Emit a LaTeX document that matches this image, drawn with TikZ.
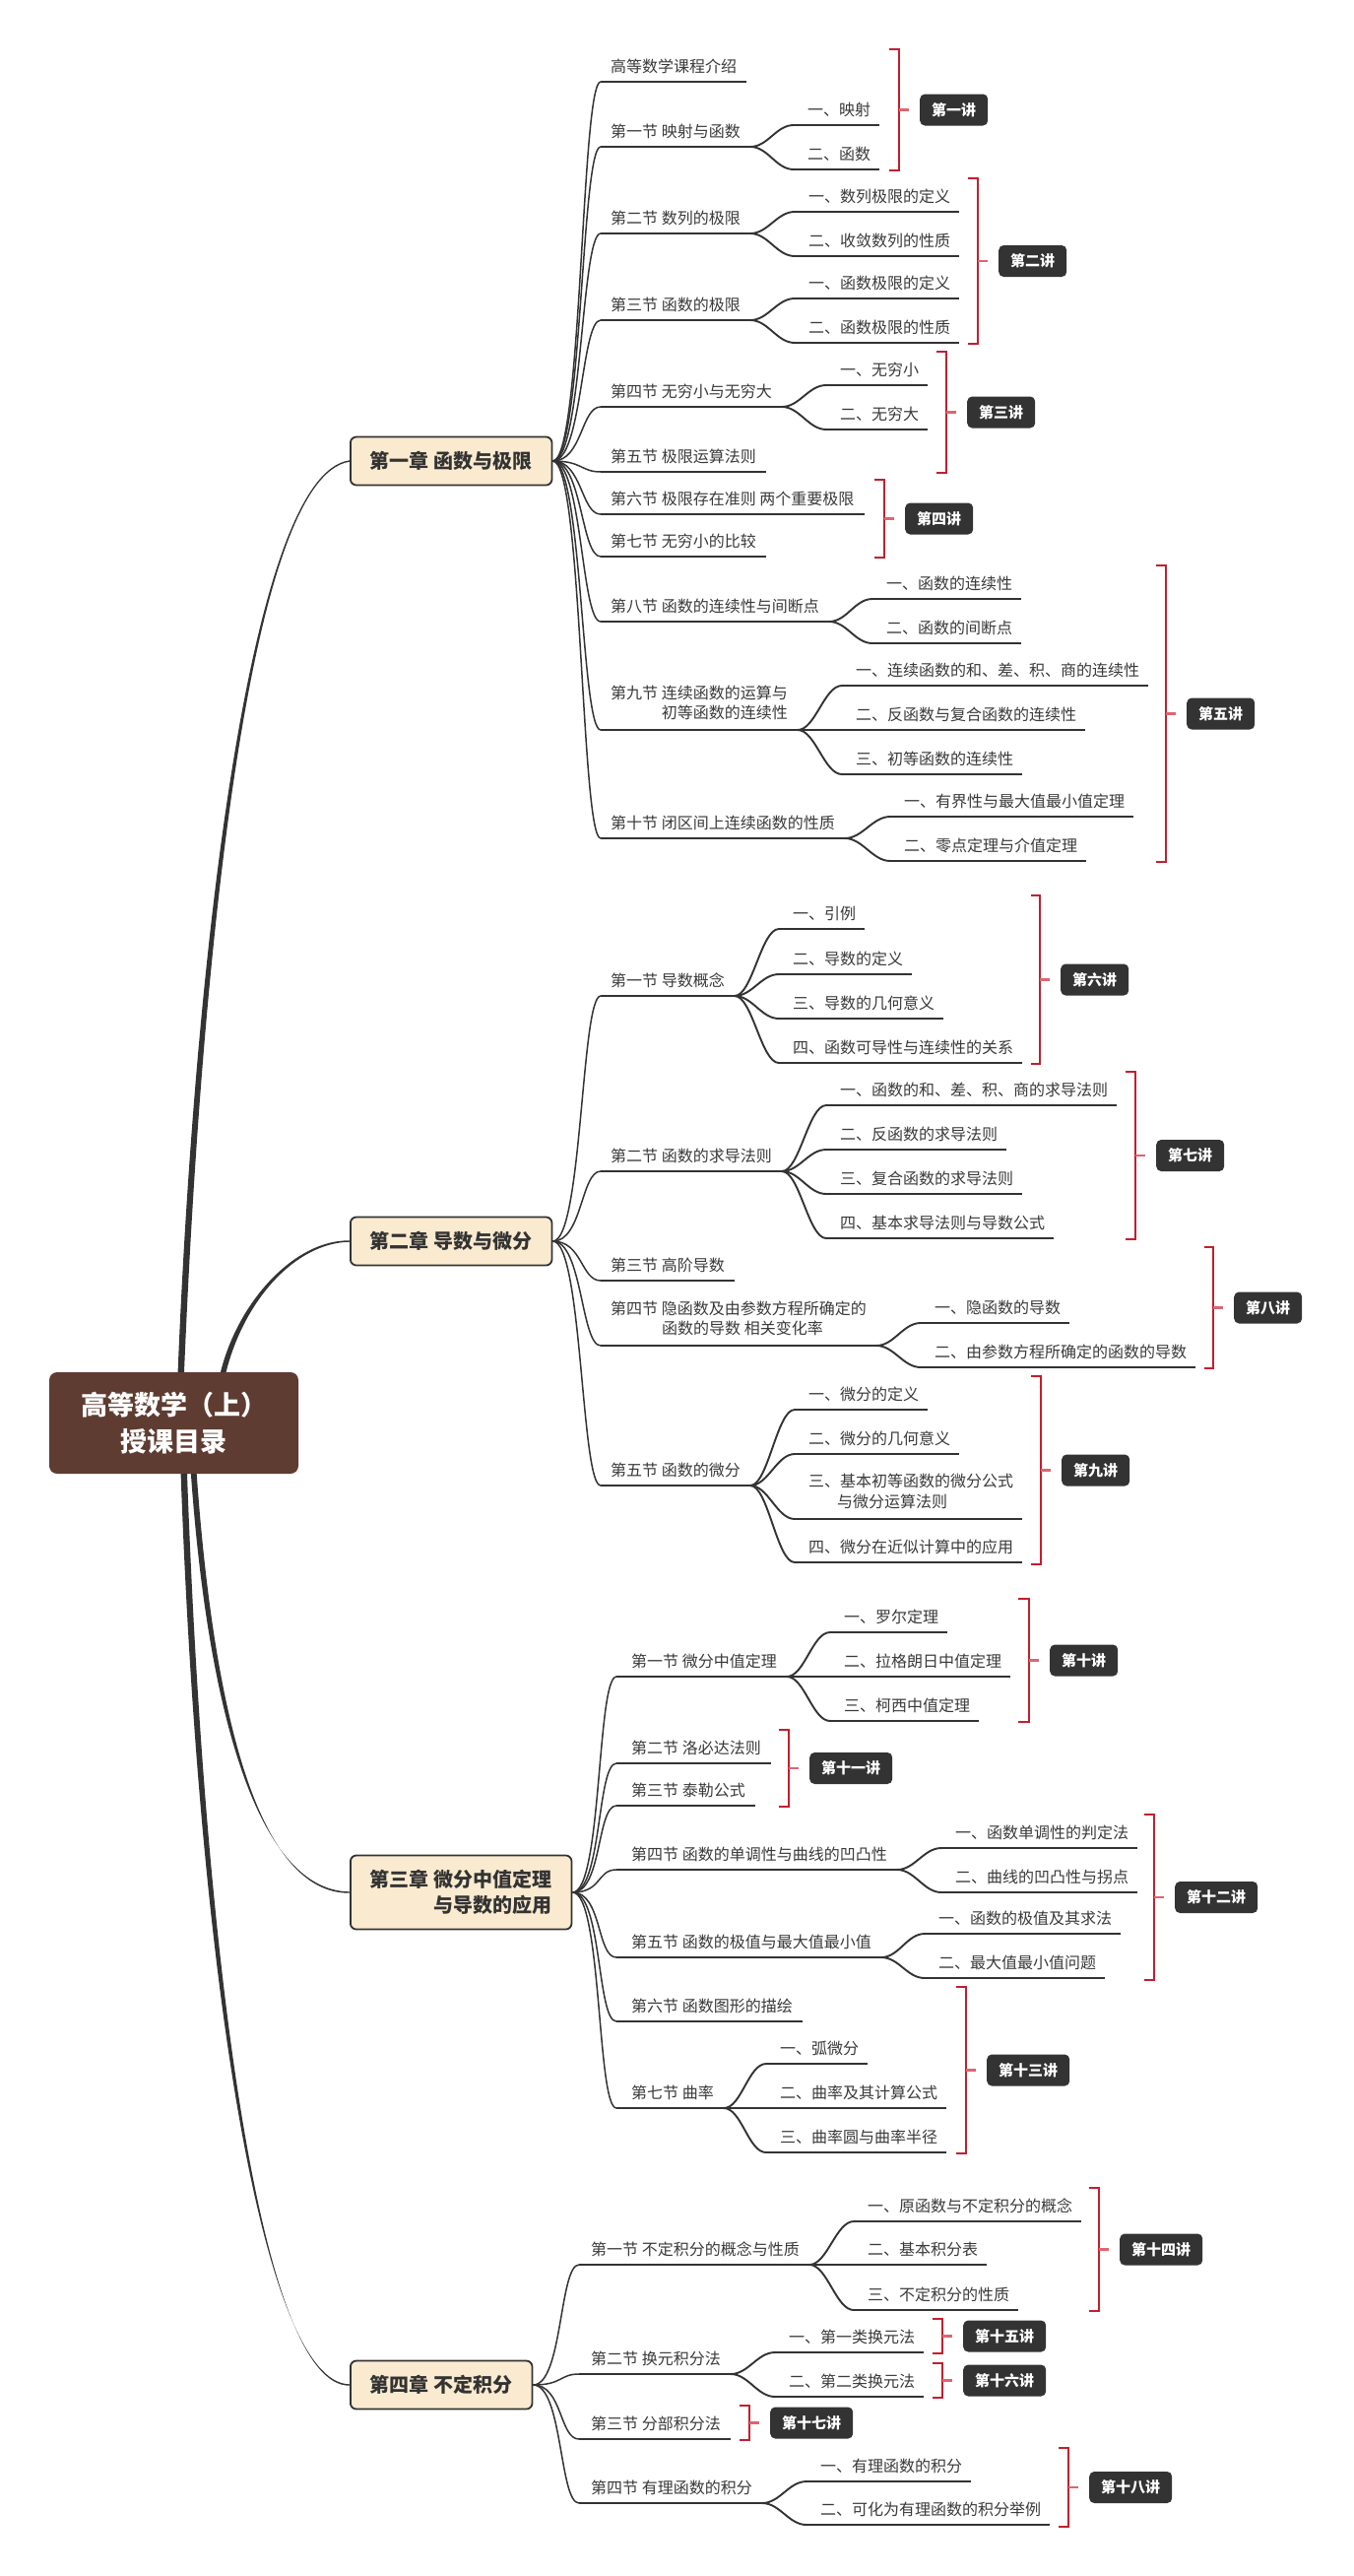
\documentclass[tikz,border=0pt]{standalone}
\usepackage{fontspec}
\setmainfont{Noto Sans CJK SC}
\usetikzlibrary{calc}
\definecolor{ink}{HTML}{333333}
\definecolor{txt}{HTML}{3A3A3A}
\definecolor{chfill}{HTML}{FAEBD0}
\definecolor{rootfill}{HTML}{5E3C31}
\definecolor{brk}{HTML}{C41E2D}
\definecolor{brkl}{HTML}{DB6670}
\definecolor{lectfill}{HTML}{333333}
\tikzset{
  sectxt/.style={anchor=base west, inner sep=0pt, text=txt, font=\fontsize{16}{21}\selectfont},
  uline/.style={draw=ink, line width=2.2pt},
  secline/.style={draw=ink, line width=1.5pt},
  subline/.style={draw=ink, line width=1.9pt},
  chap/.style={draw=ink, line width=1.8pt, fill=chfill, rounded corners=6pt, anchor=west, minimum height=49pt, inner xsep=20pt, text=ink, font=\fontsize{20}{26}\selectfont\bfseries},
  rootbox/.style={fill=rootfill, rounded corners=8pt, minimum width=253pt, minimum height=103pt, align=center, text=white, font=\fontsize{27}{37}\selectfont\bfseries},
  lect/.style={fill=lectfill, rounded corners=5pt, anchor=west, minimum height=32pt, inner xsep=12pt, inner ysep=0pt, text=white, font=\fontsize{15}{18}\selectfont\bfseries},
  brkline/.style={draw=brk, line width=2.6pt},
  brktick/.style={draw=brkl, line width=2.6pt},
}
\newcommand\Sec[6]{%
  \node[sectxt] (#1) at (#4,#5-10) {#6};
  \coordinate (#1a) at (#3,#5);
  \coordinate (#1b) at ($(#1.east |- #1a)+(10,0)$);
  \draw[secline] (#2.east) .. controls +(30,0) and +(-20,0) .. (#1a);
  \draw[uline] (#1a) -- (#1b);
}
\newcommand\Sub[5]{%
  \node[sectxt] (#1) at (#3,#4-10) {#5};
  \coordinate (#1a) at (#3-14,#4);
  \draw[subline] (#2b) .. controls +(18,0) and +(-18,0) .. (#1a);
  \draw[uline] (#1a) -- ($(#1.east |- #1a)+(9,0)$);
}
\newcommand\Lect[6]{%
  \draw[brkline] (#2,#4) -- (#3,#4) -- (#3,#5) -- (#2,#5);
  \coordinate (#1m) at (#3,{(#4+#5)/2});
  \node[lect] (#1) at ($(#1m)+(21,0)$) {#6};
  \draw[brktick] (#1m) -- ($(#1m)+(10,0)$);
}
\begin{document}
\begin{tikzpicture}[x=1pt,y=-1pt]
\useasboundingbox[fill=white] (0,0) rectangle (1374,2615);

% chapters and root
\node[chap] (ch1) at (355,468) {第一章 函数与极限};
\node[chap] (ch2) at (355,1260) {第二章 导数与微分};
\node[chap, align=right, minimum height=75pt] (ch3) at (355,1921) {第三章 微分中值定理\\与导数的应用};
\node[chap] (ch4) at (355,2421) {第四章 不定积分};
\node[rootbox] (root) at (176.5,1444.5) {高等数学（上）\\授课目录};

\coordinate (r1) at ($(root.north west)+(134,0)$);
\coordinate (r2) at ($(root.north west)+(177,0)$);
\coordinate (r3) at ($(root.south west)+(147,0)$);
\coordinate (r4) at ($(root.south west)+(137,0)$);

\fill[ink] ($(r1)+(-3.2,0)$) .. controls (196.6,1000) and (250,481.5) .. ($(ch1.west)+(0,-0.7)$) -- ($(ch1.west)+(0,0.7)$) .. controls (250,484.5) and (203.4,1000) .. ($(r1)+(3.2,0)$) -- cycle;
\fill[ink] ($(r2)+(-2.8,0)$) .. controls (242.2,1320) and (300,1258.4) .. ($(ch2.west)+(0,-0.7)$) -- ($(ch2.west)+(0,0.7)$) .. controls (300,1261.6) and (247.8,1320) .. ($(r2)+(2.8,0)$) -- cycle;
\fill[ink] ($(r3)+(-2.9,0)$) .. controls (212.1,1750) and (265,1919.4) .. ($(ch3.west)+(0,-0.7)$) -- ($(ch3.west)+(0,0.7)$) .. controls (265,1922.6) and (217.9,1750) .. ($(r3)+(2.9,0)$) -- cycle;
\fill[ink] ($(r4)+(-3.2,0)$) .. controls (201.8,2000) and (265,2419.4) .. ($(ch4.west)+(0,-0.7)$) -- ($(ch4.west)+(0,0.7)$) .. controls (265,2422.6) and (208.2,2000) .. ($(r4)+(3.2,0)$) -- cycle;

% ---------- chapter 1
\Sec{A1}{ch1}{610}{620}{83}{高等数学课程介绍}
\Sec{A2}{ch1}{610}{620}{149}{第一节 映射与函数}
\Sub{A2p}{A2}{820}{127}{一、映射}
\Sub{A2q}{A2}{820}{172}{二、函数}
\Sec{A3}{ch1}{610}{620}{237}{第二节 数列的极限}
\Sub{A3p}{A3}{821}{215}{一、数列极限的定义}
\Sub{A3q}{A3}{821}{260}{二、收敛数列的性质}
\Sec{A4}{ch1}{610}{620}{325}{第三节 函数的极限}
\Sub{A4p}{A4}{821}{303}{一、函数极限的定义}
\Sub{A4q}{A4}{821}{348}{二、函数极限的性质}
\Sec{A5}{ch1}{610}{620}{413}{第四节 无穷小与无穷大}
\Sub{A5p}{A5}{853}{391}{一、无穷小}
\Sub{A5q}{A5}{853}{436}{二、无穷大}
\Sec{A6}{ch1}{610}{620}{479}{第五节 极限运算法则}
\Sec{A7}{ch1}{610}{620}{522}{第六节 极限存在准则 两个重要极限}
\Sec{A8}{ch1}{610}{620}{565}{第七节 无穷小的比较}
\Sec{A9}{ch1}{610}{620}{631}{第八节 函数的连续性与间断点}
\Sub{A9p}{A9}{900}{608}{一、函数的连续性}
\Sub{A9q}{A9}{900}{653}{二、函数的间断点}
\node[sectxt] (A10) at (620,709) {第九节 连续函数的运算与};
\node[sectxt, anchor=base east] (A10l) at (800,729) {初等函数的连续性};
\coordinate (A10a) at (610,741);
\coordinate (A10b) at ($(A10.east |- A10a)+(10,0)$);
\draw[secline] (ch1.east) .. controls +(30,0) and +(-20,0) .. (A10a);
\draw[uline] (A10a) -- (A10b);
\Sub{A10p}{A10}{869}{696}{一、连续函数的和、差、积、商的连续性}
\Sub{A10q}{A10}{869}{741}{二、反函数与复合函数的连续性}
\Sub{A10r}{A10}{869}{786}{三、初等函数的连续性}
\Sec{A11}{ch1}{610}{620}{851}{第十节 闭区间上连续函数的性质}
\Sub{A11p}{A11}{918}{829}{一、有界性与最大值最小值定理}
\Sub{A11q}{A11}{918}{874}{二、零点定理与介值定理}

\Lect{L1}{903}{913}{50}{173}{第一讲}
\Lect{L2}{983}{993}{181}{349}{第二讲}
\Lect{L3}{951}{961}{357}{480}{第三讲}
\Lect{L4}{888}{898}{487}{566}{第四讲}
\Lect{L5}{1174}{1184}{574}{875}{第五讲}

% ---------- chapter 2
\Sec{B1}{ch2}{610}{620}{1011}{第一节 导数概念}
\Sub{B1p}{B1}{805}{943}{一、引例}
\Sub{B1q}{B1}{805}{989}{二、导数的定义}
\Sub{B1r}{B1}{805}{1034}{三、导数的几何意义}
\Sub{B1s}{B1}{805}{1079}{四、函数可导性与连续性的关系}
\Sec{B2}{ch2}{610}{620}{1189}{第二节 函数的求导法则}
\Sub{B2p}{B2}{853}{1122}{一、函数的和、差、积、商的求导法则}
\Sub{B2q}{B2}{853}{1167}{二、反函数的求导法则}
\Sub{B2r}{B2}{853}{1212}{三、复合函数的求导法则}
\Sub{B2s}{B2}{853}{1257}{四、基本求导法则与导数公式}
\Sec{B3}{ch2}{610}{620}{1300}{第三节 高阶导数}
\node[sectxt] (B4) at (620,1334) {第四节 隐函数及由参数方程所确定的};
\node[sectxt] (B4l) at (672,1354) {函数的导数 相关变化率};
\coordinate (B4a) at (610,1366);
\coordinate (B4b) at ($(B4.east |- B4a)+(10,0)$);
\draw[secline] (ch2.east) .. controls +(30,0) and +(-20,0) .. (B4a);
\draw[uline] (B4a) -- (B4b);
\Sub{B4p}{B4}{949}{1343}{一、隐函数的导数}
\Sub{B4q}{B4}{949}{1388}{二、由参数方程所确定的函数的导数}
\Sec{B5}{ch2}{610}{620}{1508}{第五节 函数的微分}
\Sub{B5p}{B5}{821}{1431}{一、微分的定义}
\Sub{B5q}{B5}{821}{1476}{二、微分的几何意义}
\node[sectxt] (B5r) at (821,1509) {三、基本初等函数的微分公式};
\node[sectxt] (B5rl) at (850,1530) {与微分运算法则};
\coordinate (B5ra) at (807,1542);
\draw[subline] (B5b) .. controls +(18,0) and +(-18,0) .. (B5ra);
\draw[uline] (B5ra) -- ($(B5r.east |- B5ra)+(9,0)$);
\Sub{B5s}{B5}{821}{1586}{四、微分在近似计算中的应用}

\Lect{L6}{1047}{1056}{909}{1080}{第六讲}
\Lect{L7}{1143}{1153}{1088}{1258}{第七讲}
\Lect{L8}{1223}{1232}{1266}{1389}{第八讲}
\Lect{L9}{1047}{1057}{1397}{1588}{第九讲}

% ---------- chapter 3
\Sec{C1}{ch3}{626}{641}{1702}{第一节 微分中值定理}
\Sub{C1p}{C1}{857}{1657}{一、罗尔定理}
\Sub{C1q}{C1}{857}{1702}{二、拉格朗日中值定理}
\Sub{C1r}{C1}{857}{1747}{三、柯西中值定理}
\Sec{C2}{ch3}{626}{641}{1790}{第二节 洛必达法则}
\Sec{C3}{ch3}{626}{641}{1833}{第三节 泰勒公式}
\Sec{C4}{ch3}{626}{641}{1898}{第四节 函数的单调性与曲线的凹凸性}
\Sub{C4p}{C4}{970}{1876}{一、函数单调性的判定法}
\Sub{C4q}{C4}{970}{1921}{二、曲线的凹凸性与拐点}
\Sec{C5}{ch3}{626}{641}{1987}{第五节 函数的极值与最大值最小值}
\Sub{C5p}{C5}{953}{1963}{一、函数的极值及其求法}
\Sub{C5q}{C5}{953}{2008}{二、最大值最小值问题}
\Sec{C6}{ch3}{626}{641}{2052}{第六节 函数图形的描绘}
\Sec{C7}{ch3}{626}{641}{2140}{第七节 曲率}
\Sub{C7p}{C7}{792}{2095}{一、弧微分}
\Sub{C7q}{C7}{792}{2140}{二、曲率及其计算公式}
\Sub{C7r}{C7}{792}{2185}{三、曲率圆与曲率半径}

\Lect{L10}{1034}{1045}{1623}{1748}{第十讲}
\Lect{L11}{791}{801}{1756}{1834}{第十一讲}
\Lect{L12}{1162}{1172}{1842}{2010}{第十二讲}
\Lect{L13}{971}{981}{2017}{2186}{第十三讲}

% ---------- chapter 4
\Sec{D1}{ch4}{588}{600}{2299}{第一节 不定积分的概念与性质}
\Sub{D1p}{D1}{881}{2255}{一、原函数与不定积分的概念}
\Sub{D1q}{D1}{881}{2299}{二、基本积分表}
\Sub{D1r}{D1}{881}{2345}{三、不定积分的性质}
\Sec{D2}{ch4}{588}{600}{2410}{第二节 换元积分法}
\Sub{D2p}{D2}{801}{2388}{一、第一类换元法}
\Sub{D2q}{D2}{801}{2433}{二、第二类换元法}
\Sec{D3}{ch4}{588}{600}{2476}{第三节 分部积分法}
\Sec{D4}{ch4}{588}{600}{2541}{第四节 有理函数的积分}
\Sub{D4p}{D4}{833}{2519}{一、有理函数的积分}
\Sub{D4q}{D4}{833}{2563}{二、可化为有理函数的积分举例}

\Lect{L14}{1106}{1116}{2221}{2346}{第十四讲}
\Lect{L15}{947}{957}{2354}{2389}{第十五讲}
\Lect{L16}{947}{957}{2399}{2434}{第十六讲}
\Lect{L17}{751}{761}{2442}{2477}{第十七讲}
\Lect{L18}{1075}{1085}{2485}{2565}{第十八讲}
\end{tikzpicture}
\end{document}
